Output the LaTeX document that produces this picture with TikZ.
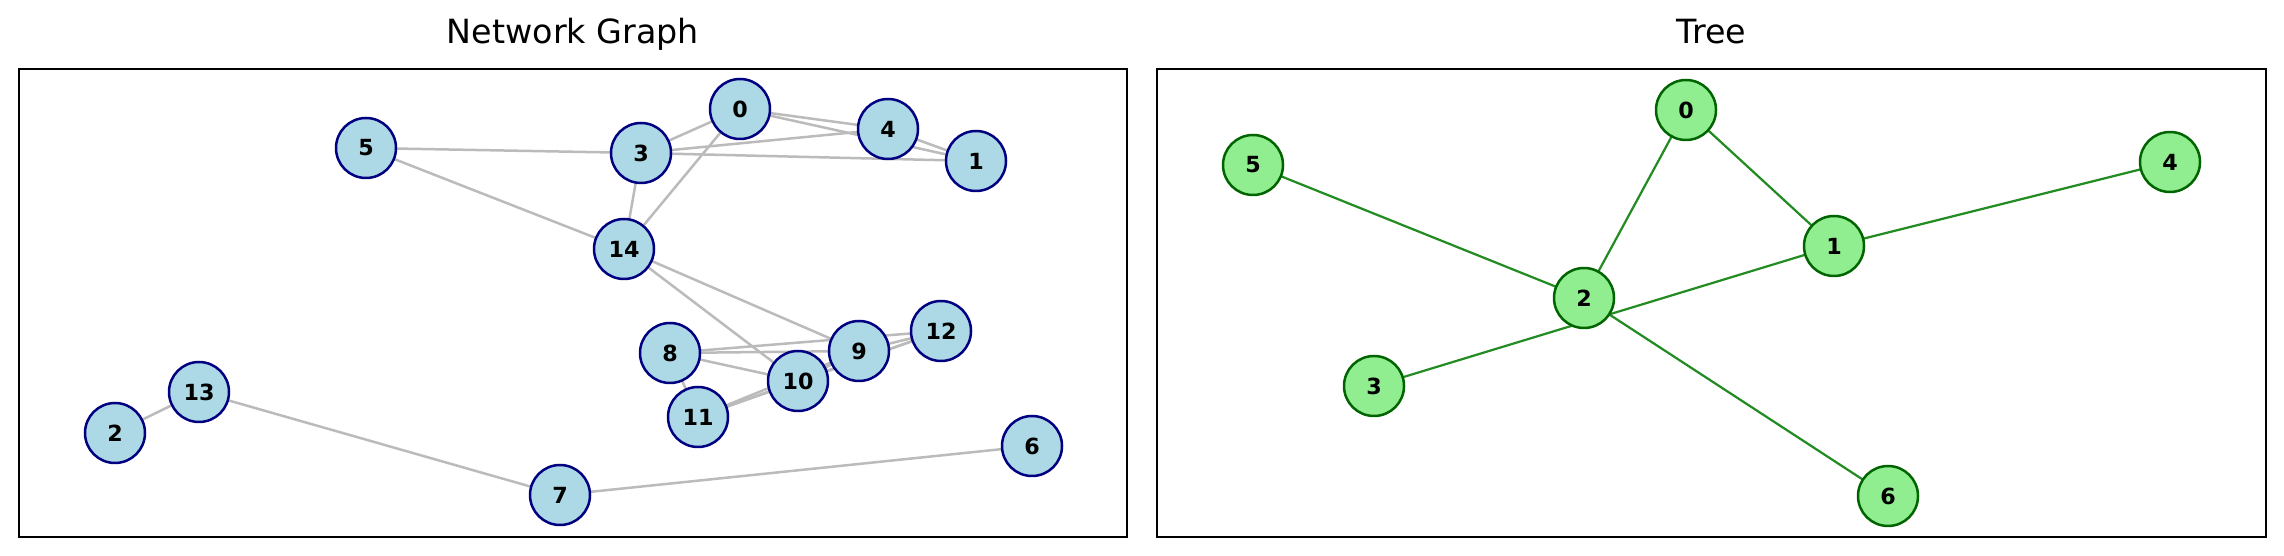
\documentclass[tikz,border=0pt]{standalone}
\usepackage{fontspec}
\setmainfont{DejaVu Sans}
\usetikzlibrary{backgrounds}
\definecolor{nblue}{HTML}{ADD8E6}
\definecolor{nnavy}{HTML}{000080}
\definecolor{tgreen}{HTML}{90EE90}
\definecolor{tdark}{HTML}{006400}
\definecolor{tedge}{HTML}{228B22}
\definecolor{gedge}{HTML}{BBBBBB}
\tikzset{
  gnode/.style={circle, draw=nnavy, fill=nblue, line width=0.9pt, minimum size=21.6pt, inner sep=0pt, font=\fontsize{8}{9}\selectfont\bfseries},
  tnode/.style={circle, draw=tdark, fill=tgreen, line width=0.9pt, minimum size=21.6pt, inner sep=0pt, font=\fontsize{8}{9}\selectfont\bfseries},
  gline/.style={draw=gedge, line width=0.9pt},
  tline/.style={draw=tedge, line width=0.8pt},
  frame/.style={draw=black, line width=0.8pt},
  title/.style={anchor=base, font=\fontsize{12}{14}\selectfont}
}
\begin{document}
\begin{tikzpicture}[x=0.36pt, y=-0.36pt]
\useasboundingbox (0,0) rectangle (2284,556);
% frames
\draw[frame] (19,69) rectangle (1127,537);
\draw[frame] (1157,69) rectangle (2266,537);
\node[title] (t1) at (573,43.5) {Network Graph};
\node[title] (t2) at (1711.5,43.5) {Tree};
% network nodes
\node[gnode] (g0) at (740,109) {0};
\node[gnode] (g4) at (888,129) {4};
\node[gnode] (g1) at (976,161) {1};
\node[gnode] (g3) at (641,153) {3};
\node[gnode] (g5) at (366,148) {5};
\node[gnode] (g14) at (624,249) {14};
\node[gnode] (g8) at (670,353) {8};
\node[gnode] (g9) at (859,351) {9};
\node[gnode] (g12) at (941,331) {12};
\node[gnode] (g10) at (798,381) {10};
\node[gnode] (g11) at (698,417) {11};
\node[gnode] (g6) at (1032,446) {6};
\node[gnode] (g7) at (560,495) {7};
\node[gnode] (g13) at (199,392) {13};
\node[gnode] (g2) at (115,433) {2};
% tree nodes
\node[tnode] (n0) at (1686,110) {0};
\node[tnode] (n5) at (1253,165) {5};
\node[tnode] (n4) at (2170,162) {4};
\node[tnode] (n1) at (1834,246) {1};
\node[tnode] (n2) at (1584,298) {2};
\node[tnode] (n3) at (1374,386) {3};
\node[tnode] (n6) at (1888,496) {6};
\begin{pgfonlayer}{background}
% network edges
\draw[gline] (g0.center) -- (g3.center);
\draw[gline] (g0.center) -- (g4.center);
\draw[gline] (g0.center) -- (g1.center);
\draw[gline] (g0.center) -- (g14.center);
\draw[gline] (g3.center) -- (g4.center);
\draw[gline] (g3.center) -- (g5.center);
\draw[gline] (g3.center) -- (g1.center);
\draw[gline] (g3.center) -- (g14.center);
\draw[gline] (g4.center) -- (g1.center);
\draw[gline] (g5.center) -- (g14.center);
\draw[gline] (g14.center) -- (g9.center);
\draw[gline] (g14.center) -- (g10.center);
\draw[gline] (g8.center) -- (g9.center);
\draw[gline] (g8.center) -- (g12.center);
\draw[gline] (g8.center) -- (g10.center);
\draw[gline] (g8.center) -- (g11.center);
\draw[gline] (g9.center) -- (g12.center);
\draw[gline] (g10.center) -- (g9.center);
\draw[gline] (g10.center) -- (g12.center);
\draw[gline] (g11.center) -- (g10.center);
\draw[gline] (g11.center) -- (g9.center);
\draw[gline] (g11.center) -- (g12.center);
\draw[gline] (g2.center) -- (g13.center);
\draw[gline] (g13.center) -- (g7.center);
\draw[gline] (g7.center) -- (g6.center);
% tree edges
\draw[tline] (n0.center) -- (n2.center);
\draw[tline] (n0.center) -- (n1.center);
\draw[tline] (n5.center) -- (n2.center);
\draw[tline] (n1.center) -- (n4.center);
\draw[tline] (n3.center) -- (n1.center);
\draw[tline] (n2.center) -- (n6.center);
\end{pgfonlayer}
\end{tikzpicture}
\end{document}
